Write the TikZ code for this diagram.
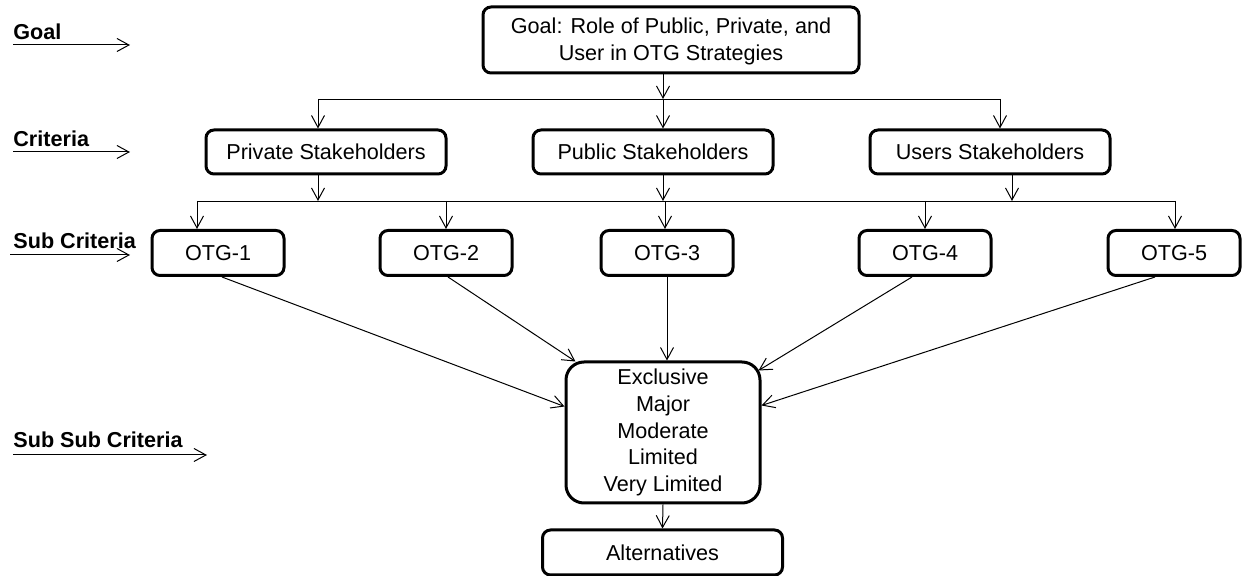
\documentclass[tikz,border=0pt]{standalone}
\usepackage{fontspec}
\setmainfont{Liberation Sans}
\usetikzlibrary{positioning,arrows.meta,calc}

\begin{document}
\begin{tikzpicture}[x=0.5pt, y=-0.5pt,
  box/.style={draw, line width=1.5pt, rounded corners=4pt, align=center, inner sep=0pt, font=\fontsize{10.8}{13}\selectfont},
  critbox/.style={box, minimum width=120pt, minimum height=22pt},
  otgbox/.style={box, minimum width=66pt, minimum height=22.5pt},
  arr/.style={-{Straight Barb[length=6pt,width=6.5pt]}, line width=0.5pt},
  lvl/.style={font=\fontsize{10.8}{13}\selectfont\bfseries, anchor=base west, inner sep=0pt}]
\useasboundingbox (0,0) rectangle (1242,576);
% level labels
\node[lvl] (lgoal) at (13,40) {Goal};
\node[lvl] (lcrit) at (13,147) {Criteria};
\node[lvl] (lsub) at (13,249) {Sub Criteria};
\node[lvl] (lsubsub) at (13,448) {Sub Sub Criteria};
\coordinate (ea) at (130,45); \draw[arr] (lgoal.base west |- ea) -- (ea);
\coordinate (eb) at (130,152); \draw[arr] (lcrit.base west |- eb) -- (eb);
\coordinate (ec) at (130,255); \draw[arr] ($(lsub.base west |- ec)+(-3,0)$) -- (ec);
\coordinate (ed) at (207,455); \draw[arr] (lsubsub.base west |- ed) -- (ed);
% goal and criteria
\node[box, minimum width=188pt, minimum height=33pt, font=\fontsize{10.8}{13.3}\selectfont] (goal) at (671,40) {\rule{0pt}{9pt}Goal: Role of Public, Private, and\\User in OTG Strategies};
\node[critbox] (priv) at (326,152) {Private Stakeholders};
\node[critbox] (pub) at (653,152) {Public Stakeholders};
\node[critbox] (users) at (990,152) {Users Stakeholders};
\coordinate (ta) at (318,99); \coordinate (tb) at (663,99); \coordinate (tc) at (1000,99);
\draw[arr] (goal.south -| tb) -- (tb);
\draw (ta) -- (tc);
\foreach \t/\n in {ta/priv,tb/pub,tc/users} \draw[arr] (\t) -- (\t |- \n.north);
% sub criteria
\foreach \i/\x in {1/218,2/446,3/667,4/925,5/1174}
  \node[otgbox] (otg\i) at (\x,253) {OTG-\i};
\coordinate (sa) at (318,201); \coordinate (sb) at (663,201); \coordinate (sc) at (1012,201);
\foreach \t/\n in {sa/priv,sb/pub,sc/users} \draw[arr] (\t |- \n.south) -- (\t);
\coordinate (u1) at (197,201); \coordinate (u2) at (446,201); \coordinate (u3) at (665,201);
\coordinate (u4) at (925,201); \coordinate (u5) at (1175,201);
\draw (u1) -- (u5);
\foreach \i in {1,...,5} \draw[arr] (u\i) -- (u\i |- otg\i.north);
% sub sub criteria
\node[box, rounded corners=9pt, minimum width=97pt, minimum height=70.5pt, font=\fontsize{10.8}{13.3}\selectfont] (ctr) at (663,432.5) {Exclusive\\Major\\Moderate\\Limited\\Very Limited};
\node[box, minimum width=120pt, minimum height=22.5pt] (alt) at (662.5,552.5) {Alternatives};
\draw[arr] ($(otg1.south)+(4,0)$) -- ($(ctr.west)+(0,-26)$);
\draw[arr] ($(otg2.south)+(2,0)$) -- ($(ctr.north west)+(11,1)$);
\draw[arr] (otg3.south) -- (otg3.south |- ctr.north);
\draw[arr] ($(otg4.south)+(-13,0)$) -- ($(ctr.north east)+(-3,10)$);
\draw[arr] ($(otg5.south)+(-19,0)$) -- ($(ctr.east)+(0,-27)$);
\draw[arr] (ctr.south) -- (alt.north);
\end{tikzpicture}
\end{document}
